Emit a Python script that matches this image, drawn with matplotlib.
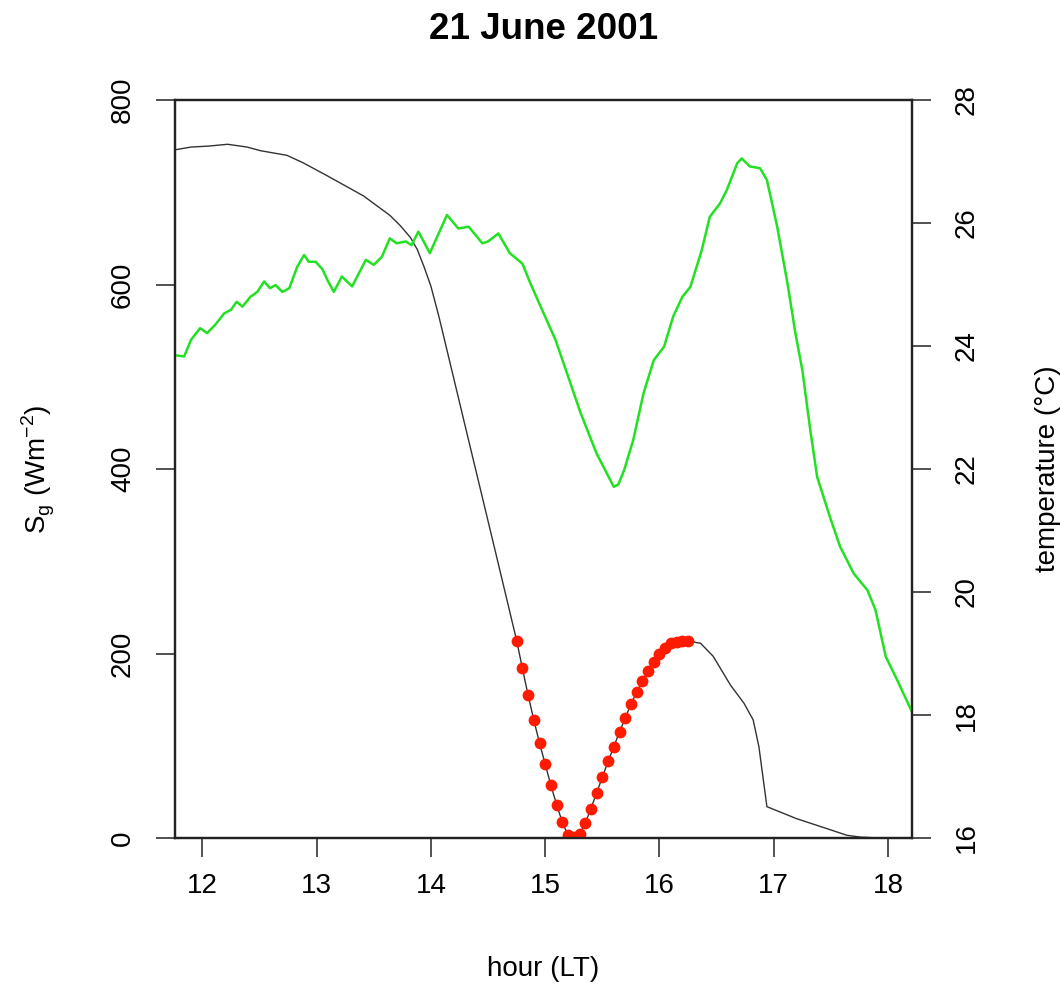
import matplotlib
matplotlib.use("Agg")
import matplotlib.pyplot as plt

plt.rcParams["font.family"] = ["Liberation Sans", "DejaVu Sans"]

# global radiation S_g (W m-2), black line
sg_hour = [11.76, 11.90, 12.05, 12.22, 12.39, 12.51, 12.74, 12.88, 13.09, 13.41,
           13.64, 13.73, 13.82, 13.88, 13.94, 14.00, 14.07, 14.20, 14.32, 14.46,
           14.59, 14.75, 14.80, 14.85, 14.90, 14.95, 15.00, 15.05, 15.10, 15.15,
           15.20, 15.25, 15.30, 15.35, 15.40, 15.45, 15.50, 15.55, 15.60, 15.65,
           15.70, 15.75, 15.80, 15.85, 15.90, 15.95, 16.00, 16.05, 16.10, 16.15,
           16.20, 16.25, 16.28, 16.36, 16.47, 16.62, 16.74, 16.82, 16.87, 16.94,
           17.20, 17.47, 17.64, 17.76, 17.93, 18.21]
sg_value = [746, 749, 750, 752, 749, 745, 740, 732, 718, 696,
            675, 664, 651, 638, 619, 598, 565, 498, 436, 364,
            297, 214, 184, 155, 128, 103, 80, 57, 36, 17,
            3, 1, 4, 16, 32, 49, 66, 83, 99, 115,
            130, 145, 158, 170, 181, 191, 199, 206, 211, 213,
            214, 214, 213, 211, 197, 166, 146, 128, 99, 34,
            21, 10, 3, 1, 0, 0]

# eclipse period, red dots
ecl_hour = [14.75, 14.80, 14.85, 14.90, 14.95, 15.00, 15.05, 15.10, 15.15, 15.20,
            15.25, 15.30, 15.35, 15.40, 15.45, 15.50, 15.55, 15.60, 15.65, 15.70,
            15.75, 15.80, 15.85, 15.90, 15.95, 16.00, 16.05, 16.10, 16.15, 16.20,
            16.25]
ecl_value = [214, 184, 155, 128, 103, 80, 57, 36, 17, 3,
             1, 4, 16, 32, 49, 66, 83, 99, 115, 130,
             145, 158, 170, 181, 191, 199, 206, 211, 213, 214,
             214]

# air temperature (deg C), green line
t_hour = [11.76, 11.84, 11.90, 11.98, 12.04, 12.11, 12.19, 12.25, 12.30, 12.35,
          12.42, 12.48, 12.54, 12.59, 12.64, 12.70, 12.76, 12.83, 12.89, 12.93,
          12.99, 13.05, 13.10, 13.15, 13.22, 13.31, 13.43, 13.50, 13.57, 13.64,
          13.70, 13.78, 13.83, 13.89, 13.99, 14.14, 14.24, 14.33, 14.45, 14.50,
          14.59, 14.69, 14.80, 14.87, 14.96, 15.09, 15.19, 15.31, 15.45, 15.60,
          15.64, 15.69, 15.77, 15.86, 15.95, 16.04, 16.12, 16.20, 16.27, 16.37,
          16.44, 16.53, 16.59, 16.68, 16.72, 16.79, 16.88, 16.94, 17.03, 17.12,
          17.19, 17.25, 17.32, 17.38, 17.49, 17.58, 17.70, 17.82, 17.89, 17.98,
          18.08, 18.21]
t_value = [23.85, 23.83, 24.10, 24.29, 24.21, 24.34, 24.53, 24.59, 24.72, 24.64,
           24.80, 24.88, 25.05, 24.94, 24.99, 24.88, 24.94, 25.29, 25.48, 25.37,
           25.37, 25.25, 25.05, 24.88, 25.13, 24.97, 25.40, 25.32, 25.45, 25.75,
           25.67, 25.70, 25.64, 25.86, 25.51, 26.13, 25.91, 25.94, 25.67, 25.70,
           25.83, 25.51, 25.34, 25.02, 24.64, 24.10, 23.56, 22.91, 22.25, 21.71,
           21.75, 21.98, 22.47, 23.23, 23.77, 23.99, 24.48, 24.80, 24.96, 25.56,
           26.10, 26.32, 26.54, 26.97, 27.05, 26.92, 26.89, 26.70, 25.94, 25.02,
           24.20, 23.61, 22.63, 21.87, 21.23, 20.74, 20.30, 20.03, 19.71, 18.95,
           18.57, 18.05]

x_ticks = [12, 13, 14, 15, 16, 17, 18]
sg_ticks = [0, 200, 400, 600, 800]
t_ticks = [16, 18, 20, 22, 24, 26, 28]

fig = plt.figure(figsize=(10.6, 9.92), dpi=100)
ax = fig.add_axes([0.1651, 0.1552, 0.6953, 0.7440])

ax.plot(sg_hour, sg_value, color="#333333", lw=1.0, zorder=2)
ax.plot(ecl_hour, ecl_value, "o", color="#ff1a00", ms=8.5, mec="none", zorder=3)
ax.set_xlim(11.76, 18.21)
ax.set_ylim(0, 800)
ax.set_xticks(x_ticks)
ax.set_yticks(sg_ticks)

ax2 = ax.twinx()
ax2.plot(t_hour, t_value, color="#22e022", lw=1.8, zorder=2)
ax2.set_ylim(16, 28)
ax2.set_yticks(t_ticks)

for a in (ax, ax2):
    for s in a.spines.values():
        s.set_linewidth(1.6)
        s.set_color("#222222")
    a.tick_params(length=14, width=1.2, color="#333333", labelsize=20)

ax.tick_params(axis="x", pad=11)
ax.tick_params(axis="y", pad=14)
ax2.tick_params(axis="y", pad=16)
for lab in ax.get_yticklabels() + ax2.get_yticklabels():
    lab.set_rotation(90)
    lab.set_va("center")

ax.set_xlabel("hour (LT)", fontsize=20, labelpad=41)
ax.set_ylabel(r"S$_\mathregular{g}$ (Wm$^{\mathregular{-2}}$)", fontsize=20, labelpad=38)
ax2.set_ylabel("temperature (°C)", fontsize=20, rotation=90, labelpad=40)
ax.set_title("21 June 2001", fontsize=26.5, fontweight="bold", pad=44)

fig.savefig("out.png", dpi=100)
